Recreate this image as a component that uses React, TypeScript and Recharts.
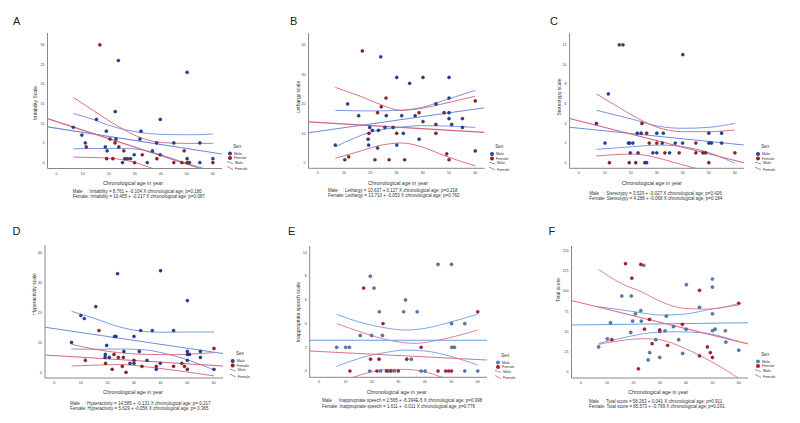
import React from "react";
import { ComposedChart, XAxis, YAxis, Scatter, Line } from "recharts";

type P = [number, number];

const ageTicks = [0, 10, 20, 30, 40, 50, 60];
const ageDomain: P = [-3.5, 63.5];

// A – Irritability
const irrTicks = [0, 5, 10, 15, 20, 25, 30];
const irrMale: P[] = [[23.7,26],[50.1,23],[22.5,13],[15.3,11],[39.8,11],[6.4,9],[19.1,8],[32.4,8],[9.7,7],[22.8,6],[32,6],[11,5],[38.4,5],[45,5],[55,5],[18.7,4],[19.4,3],[36.8,3],[29.8,2],[39.8,2],[26.2,1],[28.4,1],[50.1,1],[60,1],[25.3,0],[34.8,0],[51,0],[55,0]];
const irrFemale: P[] = [[16.6,30],[20.5,6],[22.4,5],[11.4,4],[23.9,4],[25.8,3],[49,3],[32.9,2],[19.2,1],[21.6,1],[27.2,1],[38.5,1],[29.9,0],[45,0],[48.1,0],[50.1,0],[60,0]];
const irrMaleFit: P[] = [[-3.5,9.1],[63.5,2.2]];
const irrFemaleFit: P[] = [[-3.5,11.2],[63.5,-3.3]];
const irrMaleUp: P[] = [[6.4,12.5],[14,11],[20,9.5],[27,8.3],[34,7.5],[40,7.2],[47,7.1],[54,7.1],[60,7.3]];
const irrMaleLo: P[] = [[6.4,3.5],[14,3.6],[20,3.6],[26,3.6],[31,3.4],[36,2.8],[40,2],[45,0.9],[49,0],[54,-1],[60,-2.2]];
const irrFemaleUp: P[] = [[6.4,16.6],[14.7,13],[23.7,9.2],[31.3,6.6],[40.3,5.1],[49,4.9],[60,4.9]];
const irrFemaleLo: P[] = [[6.4,1.4],[14,1.3],[21,1.1],[28.8,0.25],[33,-0.6],[37.7,-1.7],[45,-4],[60,-10]];

// B – Lethargy
const letTicks = [0, 10, 20, 30, 40];
const letMale: P[] = [[24,36],[30.1,29],[40.1,29],[50,29],[35,27],[50,22],[11.4,20],[45,20],[50,17],[15.6,16],[26.1,16],[32,16],[37.1,16],[50,15],[55.1,15],[40.1,14],[51,13],[19.8,12],[25.6,12],[28.7,12],[55.1,12],[20.8,11],[23.1,11],[32.6,10],[19.2,8],[38.6,8],[6.7,6],[19.4,6],[30.1,6],[22.8,5],[60,4],[10.3,1]];
const letFemale: P[] = [[17,38],[26,22],[60,21],[24.2,19],[22.8,17],[38.6,17],[48.1,17],[45,13],[19.5,10],[30.1,10],[45,10],[49.1,3],[11.8,2],[21.8,1],[27.2,1],[33.1,1],[50,1]];
const letMaleFit: P[] = [[-3.5,10.2],[63.5,18.7]];
const letFemaleFit: P[] = [[-3.5,13.9],[63.5,10.3]];
const letMaleUp: P[] = [[6.7,17.8],[20.6,17.6],[30.7,17.8],[39.6,18.8],[48.5,21.3],[60,24.6]];
const letMaleLo: P[] = [[6.7,5.4],[20.6,10.5],[30.7,12],[39.6,12.6],[48.5,12.5],[60,12]];
const letFemaleUp: P[] = [[6.7,25.6],[16.8,22.4],[24.4,19.6],[32,17.8],[39.6,18.5],[48.5,20.2],[60,22.6]];
const letFemaleLo: P[] = [[6.7,1.5],[16.8,4.1],[24.4,6],[32,6.7],[39.6,5.4],[48.5,2.3],[60,-1.1]];

// C – Stereotypy
const stTicks = [0, 2, 4, 6, 8, 10, 12];
const stMale: P[] = [[15.6,12],[40,11],[11.4,7],[6.8,4],[22.5,3],[24,3],[30,3],[32.5,3],[50,3],[54.9,3],[10.1,2],[19.1,2],[19.6,2],[20.8,2],[32.1,2],[37.1,2],[39.9,2],[50,2],[51,2],[54.9,2],[19.8,1],[22.8,1],[28.5,1],[30,1],[34.9,1],[25.4,0],[26.1,0]];
const stFemale: P[] = [[17,12],[24.3,4],[26.1,3],[27.1,2],[30,2],[45,2],[33.1,1],[38.6,1],[45,1],[47.7,1],[48.7,1],[60,1],[11.8,0],[19.4,0],[21.9,0],[50,0]];
const stMaleFit: P[] = [[-3.5,3.6],[63.5,1.8]];
const stFemaleFit: P[] = [[-3.5,4.5],[63.5,0]];
const stMaleUp: P[] = [[6.8,5.34],[20.7,4.42],[30.9,3.7],[39.9,3.5],[50.1,3.6],[60,4.0]];
const stMaleLo: P[] = [[6.8,1.36],[20.7,1.63],[30.9,1.8],[39.9,1.63],[50.1,1.02],[60,-0.07]];
const stFemaleUp: P[] = [[6.8,7.0],[16,5.54],[23.3,4.42],[30.9,3.54],[39.9,3.16],[50.1,3.16],[60,3.33]];
const stFemaleLo: P[] = [[6.8,0.68],[20.7,0.88],[28.4,0.61],[36,0.07],[45,-0.58],[60,-1.8]];

// D – Hyperactivity
const hyTicks = [0, 10, 20, 30, 40];
const hyMale: P[] = [[40,34],[23.8,33],[50.1,24],[15.6,22],[10,19],[11.3,18],[32.5,14],[36.9,14],[44.9,14],[22.7,12],[23.2,12],[30,12],[6.5,10],[19.7,9],[26.2,7],[32,7],[50.1,7],[55,7],[19.2,6],[50.1,6],[50.9,6],[19.1,5],[20.7,5],[55,5],[34.9,4],[50.1,4],[28.5,3],[30,3],[39.9,3],[38.4,1],[60.1,1]];
const hyFemale: P[] = [[16.8,14],[60.1,8],[22.5,6],[24.1,5],[26,5],[11.7,4],[30,4],[19.3,3],[48,3],[33,2],[25.6,2],[38.4,2],[44.9,2],[49,2],[21.8,1],[50.1,1],[27,0]];
const hyMaleFit: P[] = [[-3.5,15.1],[63.5,6.3]];
const hyFemaleFit: P[] = [[-3.5,5.8],[63.5,2.1]];
const hyMaleUp: P[] = [[6.5,20.4],[15.3,18],[24.1,15.3],[31.6,13.9],[40.4,13.4],[50.4,13.5],[60.1,13.5]];
const hyMaleLo: P[] = [[6.5,7.8],[15.3,7.7],[25.3,7.8],[34.1,7.5],[41.7,6.3],[50.4,4.1],[60.1,0.8]];
const hyFemaleUp: P[] = [[6.5,9.4],[15.3,7.7],[24.1,6.6],[34.1,6.0],[44.2,5.9],[60.1,6.6]];
const hyFemaleLo: P[] = [[6.5,2.1],[15.3,2.4],[25.3,2.6],[34.1,1.9],[44.2,0.8],[60.1,-1.2]];

// E – Inappropriate speech
const spTicks = [0, 2, 4, 6, 8, 10];
const spMale: P[] = [[45,9],[50.1,9],[19.4,8],[20.8,7],[32.7,6],[22.8,5],[32,5],[37.1,5],[50.1,4],[55.1,4],[15.6,3],[19.9,3],[24,3],[6.7,2],[10.1,2],[11.5,2],[50.2,2],[51.2,2],[34.9,1],[19.2,0],[23.3,0],[26.2,0],[28.5,0],[38.6,0],[40.1,0],[55.1,0],[60,0]];
const spFemale: P[] = [[16.9,7],[60,5],[24.2,4],[38.6,2],[19.5,1],[22.7,1],[33.2,1],[11.7,0],[21.9,0],[25.5,0],[27.2,0],[30,0],[45,0],[47.9,0],[49,0],[50.1,0]];
const spMaleFit: P[] = [[-3.5,2.6],[63.5,2.6]];
const spFemaleFit: P[] = [[-3.5,1.69],[63.5,0.93]];
const spMaleUp: P[] = [[6.7,4.78],[17.4,4.0],[26.2,3.6],[32.5,3.46],[40.1,3.6],[50.2,4.16],[60,4.8]];
const spMaleLo: P[] = [[6.7,0.39],[17.4,1.21],[26.2,1.6],[32.5,1.77],[40.1,1.69],[50.2,1.21],[60,0.5]];
const spFemaleUp: P[] = [[6.7,4.0],[17.4,3.17],[26.2,2.61],[36.3,2.33],[45.1,2.61],[60,3.46]];
const spFemaleLo: P[] = [[6.7,-1.0],[13.6,-0.48],[19.9,-0.06],[26.2,0.14],[32.5,0.14],[40.1,-0.08],[47.7,-0.62],[60,-1.6]];

// F – Total score
const totTicks = [0, 25, 50, 75, 100, 125, 150];
const totMale: P[] = [[23.9,132],[50,115],[40.1,108],[50,105],[15.6,94],[19.2,94],[45.1,80],[22.8,76],[20.8,72],[50,72],[32.5,69],[19.7,63],[23,63],[11.3,61],[35.2,56],[40,53],[30,50],[32,51],[50,51],[51,53],[54.9,51],[19,49],[10.1,41],[28.5,40],[37.2,40],[55.1,37],[6.8,31],[60,27],[26.2,24],[38.7,23],[30,18],[25.6,15]];
const totFemale: P[] = [[17,134],[22.8,133],[19.4,116],[45.1,101],[60,85],[26.1,65],[38.6,59],[24.2,53],[30,52],[11.8,40],[27.1,35],[48.1,31],[33,33],[49.2,24],[45.1,20],[50,18],[21.9,4]];
const totMaleFit: P[] = [[-3.5,58.1],[63.5,60.9]];
const totFemaleFit: P[] = [[-3.5,88.4],[63.5,34.8]];
const totMaleUp: P[] = [[6.8,80.7],[20.5,74.5],[30.6,70.4],[39.5,71.6],[49.6,77.8],[60,82.7]];
const totMaleLo: P[] = [[6.8,35.4],[16.7,42.8],[26.8,48.6],[35.7,49.8],[45.8,48.6],[60,37.4]];
const totFemaleUp: P[] = [[6.8,126.7],[15.4,109.5],[23,99.2],[30.6,86.8],[39.5,78.6],[48.4,77.8],[60,84.8]];
const totFemaleLo: P[] = [[6.8,34.2],[16.7,39.5],[24.3,41.2],[30.6,39.5],[39.5,29.2],[49.6,12.8],[60,-7.8]];

const FONT = "'Liberation Sans', Arial, sans-serif";
const W = 265;
const H = 213;

const toXY = (a: P[]) => a.map(([x, y]) => ({ x, y }));

interface Cfg {
  letter: string;
  letterX: number;
  ox: number;
  oy: number;
  plot: { l: number; t: number; r: number; b: number };
  yDomain: P;
  yTicks: number[];
  yTitle: string;
  yTitlePos: P;
  xTitlePos: P;
  caption: [string, string, string];
  captionPos: [number, number];
  legendPos: P;
  male: P[]; female: P[];
  maleFit: P[]; femaleFit: P[];
  maleUp: P[]; maleLo: P[]; femaleUp: P[]; femaleLo: P[];
  maleDot: string; femaleDot: string;
  maleLine: string; femaleLine: string;
}

const darkDots = { maleDot: "#2140a0", femaleDot: "#9e1b1f", maleLine: "#6d8ddb", femaleLine: "#d6637b" };
const lightDots = { maleDot: "#4f82c4", femaleDot: "#c41230", maleLine: "#6c9de0", femaleLine: "#e0708a" };

const panels: Cfg[] = [
  {
    letter: "A", letterX: 13, ox: 0, oy: 0, plot: { l: 47.5, t: 33, r: 222, b: 168.5 },
    yDomain: [-1.5, 33], yTicks: irrTicks, yTitle: "Irritability Scale",
    yTitlePos: [35, 103], xTitlePos: [133, 184.5],
    caption: ["Male", ": Irritability = 8.761 + -0.104 X chronological age; p=0.180", "Female: Irritability =  10.455 + -0.217  X chronological age; p=0.087"],
    captionPos: [72.7, 192.5], legendPos: [230, 146],
    male: irrMale, female: irrFemale, maleFit: irrMaleFit, femaleFit: irrFemaleFit,
    maleUp: irrMaleUp, maleLo: irrMaleLo, femaleUp: irrFemaleUp, femaleLo: irrFemaleLo, ...darkDots,
  },
  {
    letter: "B", letterX: 25, ox: 265, oy: 0, plot: { l: 43.5, t: 33, r: 219.5, b: 168.3 },
    yDomain: [-1.9, 44.1], yTicks: letTicks, yTitle: "Lethargy scale",
    yTitlePos: [33, 97], xTitlePos: [133, 184.5],
    caption: ["Male", ": Lethargy = 10.637 + 0.127 X chronological age; p=0.218", "Female: Lethargy = 13.710 + -0.053 X chronological age; p=0.782"],
    captionPos: [63, 191.5], legendPos: [227, 146.5],
    male: letMale, female: letFemale, maleFit: letMaleFit, femaleFit: letFemaleFit,
    maleUp: letMaleUp, maleLo: letMaleLo, femaleUp: letFemaleUp, femaleLo: letFemaleLo, ...darkDots,
  },
  {
    letter: "C", letterX: 20, ox: 530, oy: 0, plot: { l: 39.6, t: 33, r: 214, b: 168.3 },
    yDomain: [-0.57, 13.2], yTicks: stTicks, yTitle: "Stereotypy scale",
    yTitlePos: [28.5, 97], xTitlePos: [121.7, 184.5],
    caption: ["Male", ": Stereotypy = 3.529 + -0.027  X chronological age; p=0.426", "Female: Stereotypy = 4.288 + -0.068  X chronological age; p=0.184"],
    captionPos: [59.3, 194.5], legendPos: [228, 146.5],
    male: stMale, female: stFemale, maleFit: stMaleFit, femaleFit: stFemaleFit,
    maleUp: stMaleUp, maleLo: stMaleLo, femaleUp: stFemaleUp, femaleLo: stFemaleLo, ...darkDots,
  },
  {
    letter: "D", letterX: 12.5, ox: 0, oy: 210, plot: { l: 45, t: 35, r: 223, b: 168 },
    yDomain: [-1.9, 42.6], yTicks: hyTicks, yTitle: "Hyperactivity scale",
    yTitlePos: [34, 84], xTitlePos: [133, 183.5],
    caption: ["Male", ": Hyperactivity =  14.585 + -0.131 X chronological age; p= 0.217", "Female: Hyperactivity =  5.629 + -0.056  X chronological age; p= 0.365"],
    captionPos: [70, 194.5], legendPos: [232.7, 143.5],
    male: hyMale, female: hyFemale, maleFit: hyMaleFit, femaleFit: hyFemaleFit,
    maleUp: hyMaleUp, maleLo: hyMaleLo, femaleUp: hyFemaleUp, femaleLo: hyFemaleLo, ...darkDots,
  },
  {
    letter: "E", letterX: 23, ox: 265, oy: 210, plot: { l: 44.7, t: 36, r: 222, b: 167.3 },
    yDomain: [-0.53, 10.55], yTicks: spTicks, yTitle: "Inappropriate speech scale",
    yTitlePos: [33, 102], xTitlePos: [131.7, 183.5],
    caption: ["Male", ": Inappropriate speech = 2.565 + -6.394E-5 X chronological age; p=0.998", "Female: Inappropriate speech =  1.611 + -0.011  X chronological age; p=0.776"],
    captionPos: [57, 192], legendPos: [233, 145],
    male: spMale, female: spFemale, maleFit: spMaleFit, femaleFit: spFemaleFit,
    maleUp: spMaleUp, maleLo: spMaleLo, femaleUp: spFemaleUp, femaleLo: spFemaleLo, ...lightDots,
  },
  {
    letter: "F", letterX: 18.5, ox: 530, oy: 210, plot: { l: 41.5, t: 36, r: 218, b: 168 },
    yDomain: [-7.4, 155.8], yTicks: totTicks, yTitle: "Total score",
    yTitlePos: [27.5, 80], xTitlePos: [128.3, 183.5],
    caption: ["Male", ": Total score =  58.263 +  0.041  X chronological age; p=0.911", "Female: Total score =  85.573 +  -0.799  X chronological age; p=0.291"],
    captionPos: [59, 192.5], legendPos: [228, 144],
    male: totMale, female: totFemale, maleFit: totMaleFit, femaleFit: totFemaleFit,
    maleUp: totMaleUp, maleLo: totMaleLo, femaleUp: totFemaleUp, femaleLo: totFemaleLo, ...lightDots,
  },
];

const dotShape = (fill: string) => (props: any) => (
  <circle cx={props.cx} cy={props.cy} r={1.6} fill={fill} stroke="#1a1a2a" strokeWidth={0.3} />
);

const Panel: React.FC<{ c: Cfg }> = ({ c }) => {
  const { plot } = c;
  const [lx, ly] = c.legendPos;
  const curve = (data: P[], color: string, key: string, type: "linear" | "monotone", w = 0.9) => (
    <Line
      key={key}
      data={toXY(data)}
      dataKey="y"
      type={type}
      stroke={color}
      strokeWidth={w}
      dot={false}
      activeDot={false}
      isAnimationActive={false}
    />
  );
  return (
    <div style={{ position: "absolute", left: c.ox, top: c.oy, width: W, height: H }}>
      <ComposedChart
        width={W}
        height={H}
        margin={{ top: plot.t, right: W - plot.r, left: 0, bottom: 0 }}
      >
        <XAxis
          type="number"
          dataKey="x"
          domain={ageDomain}
          ticks={ageTicks}
          allowDataOverflow
          height={H - plot.b}
          tickLine={false}
          tickSize={2}
          tickMargin={1.5}
          stroke="#888"
          tick={{ fontSize: 3.6, fill: "#444", fontFamily: FONT }}
        />
        <YAxis
          type="number"
          dataKey="y"
          domain={c.yDomain}
          ticks={c.yTicks}
          allowDataOverflow
          width={plot.l}
          tickLine={false}
          tickSize={2}
          tickMargin={1}
          stroke="#888"
          tick={{ fontSize: 3.6, fill: "#444", fontFamily: FONT }}
        />
        {curve(c.maleUp, c.maleLine, "mu", "monotone")}
        {curve(c.maleLo, c.maleLine, "ml", "monotone")}
        {curve(c.femaleUp, c.femaleLine, "fu", "monotone")}
        {curve(c.femaleLo, c.femaleLine, "fl", "monotone")}
        {curve(c.maleFit, c.maleLine, "mf", "linear", 1.1)}
        {curve(c.femaleFit, c.femaleLine, "ff", "linear", 1.1)}
        <Scatter data={toXY(c.male)} dataKey="y" shape={dotShape(c.maleDot)} isAnimationActive={false} />
        <Scatter data={toXY(c.female)} dataKey="y" shape={dotShape(c.femaleDot)} isAnimationActive={false} />
      </ComposedChart>
      <svg
        width={W}
        height={H}
        style={{ position: "absolute", left: 0, top: 0, pointerEvents: "none" }}
        fontFamily={FONT}
      >
        <text x={c.letterX} y={25} fontSize={11} fill="#222">
          {c.letter}
        </text>
        <text
          x={c.yTitlePos[0]}
          y={c.yTitlePos[1]}
          fontSize={5}
          fill="#333"
          textAnchor="middle"
          dominantBaseline="central"
          transform={`rotate(-90 ${c.yTitlePos[0]} ${c.yTitlePos[1]})`}
        >
          {c.yTitle}
        </text>
        <text x={c.xTitlePos[0]} y={c.xTitlePos[1]} fontSize={5.3} fill="#333" textAnchor="middle">
          Chronological age in year
        </text>
        <text y={c.captionPos[1]} fontSize={4.5} fill="#333">
          <tspan x={c.captionPos[0]}>{c.caption[0]}</tspan>
          <tspan x={c.captionPos[0] + 14.5}>{c.caption[1]}</tspan>
        </text>
        <text x={c.captionPos[0]} y={c.captionPos[1] + 5.8} fontSize={4.5} fill="#333">
          {c.caption[2]}
        </text>
        <text x={lx + 3.3} y={ly + 1.5} fontSize={4.6} fill="#333">Sex</text>
        <circle cx={lx} cy={ly + 7.5} r={2} fill={c.maleDot} />
        <text x={lx + 4} y={ly + 8.8} fontSize={3.7} fill="#333">Male</text>
        <circle cx={lx} cy={ly + 12} r={2} fill={c.femaleDot} />
        <text x={lx + 4} y={ly + 13.3} fontSize={3.7} fill="#333">Female</text>
        <line x1={lx - 3} y1={ly + 15.5} x2={lx + 3} y2={ly + 17.5} stroke={c.maleLine} strokeWidth={0.9} />
        <text x={lx + 5} y={ly + 17.5} fontSize={3.7} fill="#333">Male</text>
        <line x1={lx - 3} y1={ly + 20.5} x2={lx + 3} y2={ly + 23.5} stroke={c.femaleLine} strokeWidth={0.9} />
        <text x={lx + 5} y={ly + 24.3} fontSize={3.7} fill="#333">Female</text>
      </svg>
    </div>
  );
};

export default function App() {
  return (
    <div style={{ position: "absolute", left: 0, top: 0, width: 800, height: 423, background: "#fff", overflow: "hidden" }}>
      {panels.map((c) => (
        <Panel key={c.letter} c={c} />
      ))}
    </div>
  );
}
